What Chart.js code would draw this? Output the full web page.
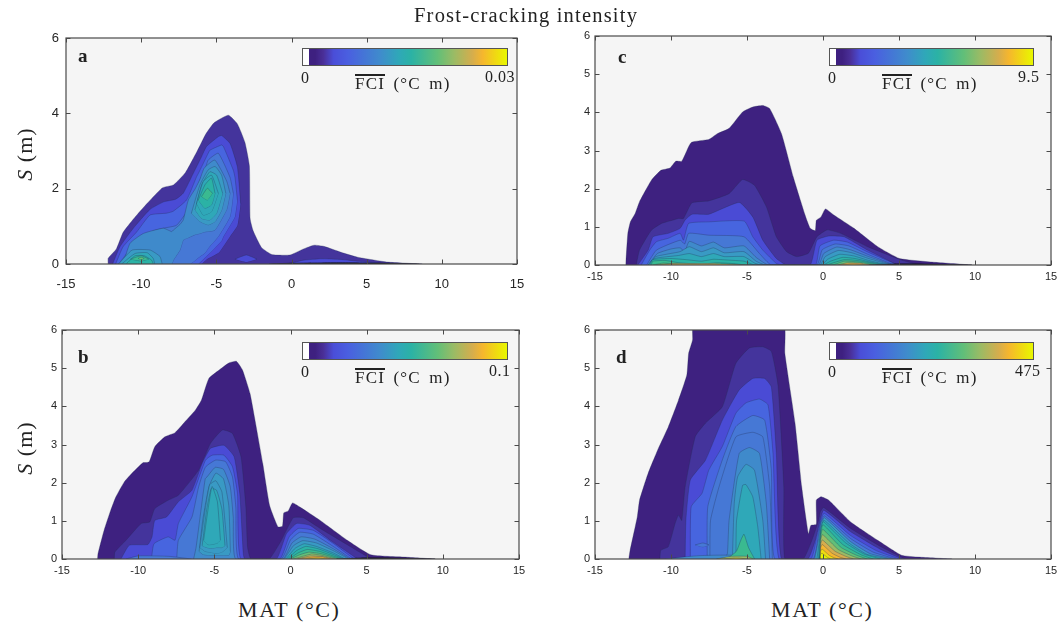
<!DOCTYPE html>
<html>
<head>
<meta charset="utf-8">
<title>Frost-cracking intensity</title>
<script src="https://cdn.jsdelivr.net/npm/chart.js@4"></script>
<style>
html, body { margin: 0; padding: 0; background: #fff; }
#page { position: relative; width: 1062px; height: 623px; overflow: hidden; font-family: "Liberation Serif", serif; color: #222; }
canvas { position: absolute; }
.txt { position: absolute; white-space: nowrap; letter-spacing: .5px; }
.bar { position: absolute; height: 18px; box-sizing: border-box; border: 1px solid #555; }
.over { border-top: 2px solid #222; line-height: 15px; display: inline-block; }
</style>
</head>
<body>
<div id="page"></div>
<script>
// tick labels
var xTicks = [-15, -10, -5, 0, 5, 10, 15];
var yTicksA = [0, 2, 4, 6];
var yTicksRest = [0, 1, 2, 3, 4, 5, 6];
var barMax = { a: '0.03', b: '0.1', c: '9.5', d: '475' };

// contour level colours, low to high
var levels = ['#3e2180', '#44349c', '#4a4bd5', '#4765df', '#4678d5', '#3f8acb', '#399ac4', '#2fa8b8',
	'#2bb2a5', '#3aba90', '#62bf78', '#9abb65', '#d5ad4d', '#f5b62e', '#efdc10', '#e8f800'];
var stripe = '#15151f';

// panel a
var a1x = [-12.2, -12.2, -11.65, -11.2, -10.5, -9.85, -8.6, -7.85, -7.05, -6.27, -5.7, -5.15, -4.2, -3.6, -3.1, -2.8, -2.75, -2.55, -2, -1.3, -0.1, 0.8, 1.5, 2.15, 3.3, 4.4, 6.4, 8.7];
var a1y = [0, .15, .4, .84, 1.2, 1.5, 2.02, 2.1, 2.43, 3, 3.45, 3.75, 3.95, 3.72, 3.23, 2.6, 1.2, .88, .44, .25, .24, .4, .5, .47, .31, .18, .05, 0];
var a2x = [-11.9, -11.41, -10.52, -9.41, -8.5, -7.7, -7.2, -6.53, -5.98, -5.65, -4.87, -4.65, -4.09, -3.6, -3.38];
var a2hi = [0, .46, .95, 1.45, 1.65, 1.72, 1.88, 2.41, 2.85, 3.12, 3.38, 3.41, 3.2, 2.58, 1.6];
var a2lo = [0, 0, 0, 0, 0, 0, 0, 0, 0, .12, .29, .4, .73, 1.02, 1.6];
var a2ix = [-3.76, -3, -2.3];
var a2ihi = [.13, .24, .13];
var a2ilo = [.13, .05, .13];
var a2rx = [-0.3, 0.8, 2, 3.3, 4.5, 6.5];
var a2ry = [0, .1, .14, .12, .07, 0];
var a3x = [-11.7, -11.2, -10.3, -9.41, -8.3, -7.87, -6.98, -6.31, -6.2, -5.54, -5.43, -4.65, -4.53, -3.87, -3.76, -3.6];
var a3hi = [0, .46, .85, 1.3, 1.35, 1.4, 1.7, 2.32, 2.4, 2.94, 3.02, 3.16, 3.12, 2.49, 2.3, 1.7];
var a3lo = [0, 0, 0, 0, 0, 0, 0, 0, 0, .25, .29, .62, .73, 1.17, 1.26, 1.7];
var a4x = [-11.5, -10.3, -9.2, -8.53, -7.64, -6.75, -6.09, -5.76, -5.54, -4.87, -4.09, -3.87];
var a4hi = [0, .6, .88, .95, 1.03, 1.52, 2.23, 2.5, 2.76, 2.94, 2.3, 1.88];
var a4lo = [0, 0, 0, 0, 0, 0, .2, .29, .42, .73, 1.26, 1.88];
var a5x = [-11.2, -10.74, -9.86, -8.53, -7.97, -7.86, -7.42, -7.2, -6.86, -6.4, -6.09, -5.8, -5.1, -4.31, -4.09];
var a5hi = [0, .55, .81, .95, .86, .9, 1.05, 1.17, 1.7, 2, 2.25, 2.55, 2.76, 2.2, 1.88];
var a5lo = [0, 0, 0, 0, 0, .1, .37, .64, .7, .78, .81, .85, .9, 1.45, 1.88];
var a6x = [-6.66, -6.09, -5.54, -5.08, -4.65, -4.37];
var a6hi = [1.35, 2.1, 2.5, 2.59, 2.36, 1.88];
var a6lo = [1.35, 1.13, 1.04, 1.13, 1.43, 1.88];
var a7x = [-6.42, -5.98, -5.43, -4.98, -4.58];
var a7hi = [1.44, 2.1, 2.45, 2.36, 1.88];
var a7lo = [1.44, 1.21, 1.17, 1.35, 1.88];
var a8x = [-6.31, -5.87, -5.32, -4.87];
var a8hi = [1.61, 2.19, 2.36, 1.88];
var a8lo = [1.61, 1.3, 1.39, 1.88];
var a9x = [-6.2, -5.76, -5.32, -5.09];
var a9hi = [1.7, 2.1, 2.28, 1.88];
var a9lo = [1.7, 1.48, 1.57, 1.88];
var a10x = [-5.98, -5.6, -5.26];
var a10hi = [1.79, 2.01, 1.88];
var a10lo = [1.79, 1.7, 1.88];
var a11x = [-11.5, -10.6, -9.4, -8.75, -8.6];
var a11y = [0, .37, .37, .2, 0];
var a12x = [-11.3, -10.4, -9.6, -9.2, -9.1];
var a12y = [0, .28, .3, .15, 0];
var a13x = [-11, -10.4, -9.8, -9.3, -9.2];
var a13y = [0, .22, .22, .1, 0];
var a14x = [-10.7, -10, -9.5];
var a14hi = [.13, .22, .13];
var a14lo = [.13, .08, .13];
var a16x = [-10.2, -10, -9.8];
var a16hi = [.15, .18, .15];
var a16lo = [.15, .12, .15];
var a15x = [-1.5, 0, 3, 6, 8.5];
var a15y = [0, .02, .035, .025, 0];

// panel b
var b1x = [-12.68, -12.64, -12.24, -11.8, -11.46, -10.91, -10.47, -9.69, -9.29, -8.91, -8.25, -7.58, -6.92, -6.25, -5.85, -5.36, -4.69, -4.03, -3.55, -3.15, -2.66, -2.37, -1.82, -1.37, -.82, -.53, -.44, -.15, .13, .62, 1.95, 3.73, 5.28, 7.5, 9.5];
var b1y = [0, .14, .75, 1.28, 1.63, 2.02, 2.22, 2.52, 2.54, 2.94, 3.2, 3.31, 3.6, 3.9, 4.16, 4.73, 4.95, 5.14, 5.18, 4.95, 4.34, 3.73, 2.5, 1.4, .84, .86, 1.21, 1.26, 1.47, 1.36, 1.01, .49, .11, .05, 0];
var b2x = [-11.57, -11.53, -10.8, -9.8, -9.24, -8.91, -8.03, -7.36, -6.03, -5.25, -4.47, -3.81, -3.25, -2.93, -2.82, -2.6, -1.4, -.6, .18, .84, 1.95, 3.95, 5.28];
var b2y = [0, .18, .49, .93, .97, 1.32, 1.54, 1.67, 2.33, 3.03, 3.38, 3.29, 2.68, 1.36, .31, 0, 0, .49, 1.08, 1.08, .8, .32, 0];
var b3x = [-11.13, -10.58, -9.36, -9.09, -8.91, -8.14, -7.36, -6.47, -5.8, -5.25, -4.37, -3.7, -3.33, -3.1, -3, -.93, -.27, .4, 1.28, 2.62, 4.4];
var b3y = [0, .36, .38, .58, 1.01, 1.1, 1.5, 1.8, 2.5, 2.9, 2.98, 2.68, 1.71, .14, 0, 0, .66, .93, .88, .49, 0];
var b4x = [-9.13, -8.96, -8.03, -7.58, -7.36, -6.47, -5.58, -5.14, -4.37, -3.81, -3.48, -3.26, -.7, -.09, .51, 1.5, 2.84, 4.17];
var b4y = [0, .4, .58, .49, .93, 1.63, 2.59, 2.72, 2.72, 2.42, 1.71, 0, 0, .58, .8, .75, .4, 0];
var b5x = [-7.47, -7.36, -6.47, -6.03, -5.58, -4.92, -4.26, -3.81, -3.59, -3.41, -.6, 0, .6, 1.5, 2.8, 4];
var b5y = [0, .49, 1.1, 1.89, 2.41, 2.59, 2.55, 2.15, 1.36, 0, 0, .5, .7, .65, .33, 0];
var b6x = [-6.36, -6.2, -6, -5.6, -5.48, -4.95, -4.4, -3.96, -3.76, -3.6, -.5, .1, .7, 1.6, 2.8, 3.9];
var b6y = [0, .3, .9, 2.1, 2.15, 2.4, 2.35, 1.9, 1.1, 0, 0, .42, .58, .52, .27, 0];
var b7x = [-10.8, -10, -8, -6.5];
var b7y = [0, .08, .07, 0];
var b8x = [-6, -5.75, -5.35, -4.9, -4.4, -4.05, -3.95];
var b8hi = [.2, 1.05, 1.9, 2.25, 2.1, 1.4, .2];
var b8lo = [.2, .12, .1, .1, .1, .1, .2];
var b9x = [-5.95, -5.6, -5.3, -4.9, -4.5, -4.15];
var b9hi = [.3, 1.3, 1.95, 2.05, 1.75, .3];
var b9lo = [.3, .2, .18, .15, .18, .3];
var b10x = [-5.8, -5.5, -5.2, -4.85, -4.5, -4.3];
var b10hi = [.35, 1.3, 1.85, 1.8, 1.3, .35];
var b10lo = [.35, .3, .28, .3, .3, .35];
var b11x = [-5.7, -5.45, -5.15, -4.8, -4.6];
var b11hi = [.5, 1.2, 1.9, 1.5, .5];
var b11lo = [.5, .38, .38, .42, .5];
var b12x = [-.4, .2, .8, 1.7, 2.8, 3.8];
var b12y = [0, .35, .48, .42, .22, 0];
var b13x = [-.3, .3, .9, 1.7, 2.8, 3.6];
var b13y = [0, .28, .4, .33, .16, 0];
var b14x = [-.2, .4, 1, 1.8, 2.8, 3.5];
var b14y = [0, .22, .33, .27, .12, 0];
var b15x = [-.1, .5, 1.1, 1.9, 2.8, 3.4];
var b15y = [0, .16, .25, .2, .08, 0];
var b16x = [0, .6, 1.2, 2, 3.2];
var b16y = [0, .11, .18, .14, 0];
var b17x = [.2, .8, 1.4, 2, 3];
var b17y = [0, .07, .13, .1, 0];
var b18x = [.4, 1.3, 2, 2.8];
var b18y = [0, .08, .07, 0];
var b19x = [.5, 1.5, 2.1, 2.6];
var b19y = [0, .05, .05, 0];
var b20x = [1, 1.8, 2.4];
var b20y = [0, .025, 0];
var b21x = [3, 5, 7, 9.5];
var b21y = [0, .03, .025, 0];

// panel c
var c1x = [-12.98, -12.84, -12.67, -12.36, -12.07, -11.29, -10.67, -10.07, -9.69, -9.29, -8.67, -7.51, -6.96, -6.18, -5.29, -4.62, -3.96, -3.51, -2.73, -1.96, -1.18, -.84, -.51, -.44, -.13, .16, .71, 2.04, 3.6, 5.04, 7.38, 9.8];
var c1y = [0, .83, 1.13, 1.35, 1.66, 2.22, 2.48, 2.54, 2.72, 2.72, 3.21, 3.29, 3.44, 3.58, 4.01, 4.14, 4.18, 4.1, 3.44, 2.31, 1.31, .96, .9, 1.17, 1.26, 1.47, 1.31, .96, .48, .17, .07, 0];
var c2x = [-12.29, -12.07, -11.29, -10.62, -9.84, -9.51, -9.18, -8.62, -7.51, -6.18, -5.29, -4.51, -3.73, -3.07, -2.4, -1.73, -.96, -.4, .27, 1.16, 2.93, 5.16, 6.3];
var c2y = [0, .39, .91, 1.09, 1.18, 1.22, 1.22, 1.63, 1.68, 1.87, 2.24, 2.09, 1.53, .74, .35, .22, .31, .74, .92, .83, .48, .13, 0];
var c3x = [-12.18, -11.5, -11.18, -10.18, -9.4, -9.07, -8.62, -7.51, -5.51, -4.62, -3.96, -3.07, -2.4, -.84, -.4, .38, 1.38, 2.93, 4.9];
var c3y = [0, .39, .74, .83, .96, 1.18, 1.33, 1.33, 1.64, 1.26, .65, .17, 0, 0, .65, .76, .74, .39, 0];
var c4x = [-11.96, -11.4, -10.96, -10.18, -9.4, -9.18, -8.84, -7.51, -5.18, -4.62, -3.96, -3.07, -2.73, -.5, -.2, .7, 1.6, 3, 4.9];
var c4y = [0, .39, .61, .7, .83, .65, 1.09, 1.13, 1.15, .74, .39, .04, 0, 0, .5, .65, .6, .33, 0];
var c5x = [-11.6, -10.96, -9.4, -9.1, -8.84, -7.5, -5.2, -4.18, -3.4, -.4, -.05, .8, 1.7, 3, 4.7];
var c5y = [0, .39, .65, .55, .83, .78, .74, .3, 0, 0, .4, .55, .5, .27, 0];
var c6x = [-11.5, -10.9, -10, -9.4, -9.1, -8.8, -8, -7.2, -6.5, -5.2, -4.4, -3.6, -.3, .05, .9, 1.8, 3, 4.6];
var c6y = [0, .3, .42, .45, .35, .62, .5, .6, .45, .5, .2, 0, 0, .3, .47, .4, .22, 0];
var c7x = [-11.5, -11, -9.4, -8.8, -8, -7.2, -6.5, -5.2, -4.4, -3.8, -.2, .15, 1, 1.9, 3, 4.5];
var c7y = [0, .22, .35, .48, .35, .45, .32, .35, .1, 0, 0, .22, .38, .32, .17, 0];
var c8x = [-11.5, -11.1, -9.5, -8.8, -8, -7.2, -6.5, -5.2, -4.5, -4.1, -.1, .3, 1.1, 2, 3, 4.3];
var c8y = [0, .17, .25, .3, .22, .3, .22, .22, .05, 0, 0, .15, .28, .24, .12, 0];
var c9x = [-11.4, -11.2, -10, -9, -8, -7.2, -6.3, -5.2, -4.5, 0, .5, 1.3, 2.1, 3.1, 4.2];
var c9y = [0, .14, .17, .14, .1, .15, .13, .1, 0, 0, .1, .2, .17, .08, 0];
var c10x = [-11.3, -11.2, -10.4, -9.5, -8, -7, -6, -5, .2, .7, 1.4, 2.2, 3.2, 4];
var c10y = [0, .1, .12, .06, .02, .06, .04, 0, 0, .06, .14, .12, .05, 0];
var c11x = [-11.2, -10.5, -9.5, -9, .6, 1.4, 2.3, 3.6];
var c11y = [0, .05, .02, 0, 0, .1, .08, 0];
var c12x = [-11, -10, -7, -4.6, .9, 1.6, 2.4, 3.2];
var c12y = [0, .035, .035, 0, 0, .06, .05, 0];
var c13x = [1, 2, 3];
var c13y = [0, .035, 0];
var c14x = [3, 5, 7, 9.8];
var c14y = [0, .03, .025, 0];

// panel d
var d1x = [-12.78, -12.69, -12.22, -12.07, -11.51, -10.84, -10.18, -9.51, -8.96, -8.84, -8.58, -8.51, -2.62, -2.51, -1.84, -1.4, -.96, -.8, -.44, -.44, -.13, .38, 1.82, 3.6, 5.16, 6.3, 8.5];
var d1y = [0, .23, 1.1, 1.54, 2.24, 2.89, 3.46, 4.16, 4.82, 5.39, 5.74, 6.2, 6.2, 5.39, 3.56, 1.89, .66, .88, .91, 1.54, 1.63, 1.54, .97, .49, .1, .05, 0];
var d2x = [-10.73, -10.67, -10.18, -9.73, -9.51, -9.29, -9.07, -8.4, -7.73, -6.62, -5.73, -4.84, -3.96, -3.4, -2.96, -2.58, -2.51, -1.3, -.73, -.29, -.18, .04, 1.82, 3.82, 5.38];
var d2y = [0, .23, .32, .93, 1.15, 1.01, 1.89, 3.21, 3.56, 3.99, 5.13, 5.53, 5.56, 5.44, 4.55, 1.89, 0, 0, .49, 1.01, 1.23, 1.35, .8, .32, 0];
var d3x = [-9.07, -9.02, -8.73, -7.73, -6.62, -5.51, -4.62, -3.84, -3.4, -3.07, -2.73, -1, -.5, -.2, .05, 1.8, 3.7, 5.2];
var d3y = [0, 1.01, 2.07, 2.59, 3.64, 4.43, 4.73, 4.73, 4.51, 2.77, 0, 0, .5, 1, 1.28, .72, .27, 0];
var d4x = [-8.73, -8.67, -7.96, -7.51, -6.62, -5.73, -5.07, -4.18, -3.62, -3.29, -2.89, -.8, -.4, -.15, .08, 1.8, 3.5, 5];
var d4y = [0, 1.37, 1.72, 2.33, 2.95, 3.82, 4.09, 4.19, 4.04, 2.77, 0, 0, .6, 1, 1.2, .62, .22, 0];
var d5x = [-7.62, -7.58, -6.62, -5.73, -4.62, -3.84, -3.4, -3.18, -.65, -.3, -.12, .1, 1.8, 3.3, 4.8];
var d5y = [0, 1.37, 2.6, 3.47, 3.76, 3.64, 2.33, 0, 0, .65, .98, 1.13, .54, .18, 0];
var d6x = [-7.44, -7.4, -6.84, -5.73, -4.62, -3.96, -3.51, -3.33];
var d6y = [0, 1.01, 1.89, 3.2, 3.32, 3.2, 1.89, 0];
var d7x = [-6.5, -6.29, -6.18, -5.51, -4.84, -4.18, -3.73, -3.51];
var d7y = [0, .14, 1.01, 2.77, 2.92, 2.77, 1.45, 0];
var d8x = [-5.96, -5.84, -5.62, -5.07, -4.51, -3.96, -3.78];
var d8y = [0, 1.45, 2.15, 2.48, 2.33, 1.01, 0];
var d9x = [-5.73, -5.69, -5.29, -5.07, -4.62, -4.29, -4.07];
var d9y = [0, 1, 1.93, 1.95, 1.63, .84, 0];
var d10x = [-8.4, -7.9, -7.5];
var d10hi = [.37, .42, .37];
var d10lo = [.37, .32, .37];
var d11x = [-10.4, -9, -8, -7, -6, -5, -4.5];
var d11y = [0, .06, .09, .1, .1, .08, 0];
var d12x = [-7, -6.2, -5.7, -5.4, -5.2, -4.9, -4.5];
var d12y = [0, .05, .2, .5, .65, .3, 0];
var d13x = [-7, -6, -5, -4.6];
var d13y = [0, .07, .07, 0];
var d14x = [-6.5, -5.7, -5];
var d14y = [0, .03, 0];
var fan1x = [-.55, -.3, -.12, .1, 1.8, 3.1, 4.6];
var fan1y = [0, .5, .95, 1.08, .46, .14, 0];
var fan2x = [-.4, -.12, .05, 1.7, 2.9, 4.3];
var fan2y = [0, .8, 1.02, .42, .12, 0];
var fan3x = [-.3, -.13, .02, 1.5, 2.7, 3.8];
var fan3y = [0, .8, .98, .42, .13, 0];
var fan4x = [-.22, -.14, 0, 1.3, 2.5, 3.3];
var fan4y = [0, .7, .9, .38, .11, 0];
var fan5x = [-.2, -.14, -.02, 1.2, 2.2, 2.9];
var fan5y = [0, .6, .78, .3, .1, 0];
var fan6x = [-.19, -.15, -.03, 1, 1.9, 2.5];
var fan6y = [0, .5, .64, .25, .08, 0];
var fan7x = [-.18, -.15, -.04, .8, 1.5, 2];
var fan7y = [0, .4, .5, .2, .07, 0];
var fan8x = [-.18, -.15, -.05, .6, 1.1, 1.5];
var fan8y = [0, .3, .38, .15, .05, 0];
var fan9x = [-.18, -.16, -.06, .4, .75, 1];
var fan9y = [0, .2, .26, .1, .03, 0];
var fan10x = [-.18, -.16, -.07, .3, .5];
var fan10y = [0, .12, .15, .04, 0];

// [colour level, x, top, bottom]
var panelA = [[1, a1x, a1y], [2, a2x, a2hi, a2lo], [2, a2ix, a2ihi, a2ilo], [2, a2rx, a2ry], [3, a3x, a3hi, a3lo], [4, a4x, a4hi, a4lo],
	[5, a5x, a5hi, a5lo], [6, a6x, a6hi, a6lo], [7, a7x, a7hi, a7lo], [7, a8x, a8hi, a8lo], [8, a9x, a9hi, a9lo], [9, a10x, a10hi, a10lo],
	[6, a11x, a11y], [7, a12x, a12y], [8, a13x, a13y], [9, a14x, a14hi, a14lo], [10, a16x, a16hi, a16lo], [-1, a15x, a15y]];
var panelB = [[0, b1x, b1y], [1, b2x, b2y], [2, b3x, b3y], [3, b4x, b4y], [4, b5x, b5y], [5, b6x, b6y], [4, b7x, b7y],
	[6, b8x, b8hi, b8lo], [6, b9x, b9hi, b9lo], [7, b10x, b10hi, b10lo], [7, b11x, b11hi, b11lo],
	[6, b12x, b12y], [7, b13x, b13y], [8, b14x, b14y], [9, b15x, b15y], [10, b16x, b16y], [11, b17x, b17y], [12, b18x, b18y], [13, b19x, b19y], [14, b20x, b20y], [-1, b21x, b21y]];
var panelC = [[0, c1x, c1y], [1, c2x, c2y], [2, c3x, c3y], [3, c4x, c4y], [4, c5x, c5y], [5, c6x, c6y], [6, c7x, c7y], [7, c8x, c8y],
	[8, c9x, c9y], [9, c10x, c10y], [10, c11x, c11y], [12, c12x, c12y], [13, c13x, c13y], [-1, c14x, c14y]];
var panelD = [[0, d1x, d1y], [1, d2x, d2y], [2, d3x, d3y], [3, d4x, d4y], [4, d5x, d5y], [4, d6x, d6y], [5, d7x, d7y], [6, d8x, d8y], [7, d9x, d9y],
	[4, d10x, d10hi, d10lo], [5, d11x, d11y], [9, d12x, d12y], [11, d13x, d13y], [14, d14x, d14y],
	[6, fan1x, fan1y], [7, fan2x, fan2y], [8, fan3x, fan3y], [9, fan4x, fan4y], [10, fan5x, fan5y], [11, fan6x, fan6y], [12, fan7x, fan7y], [13, fan8x, fan8y], [14, fan9x, fan9y], [15, fan10x, fan10y]];

var page = document.getElementById('page');

function label(html, x, y, size, extra) {
	var el = document.createElement('div');
	el.className = 'txt';
	el.innerHTML = html;
	el.style.left = x + 'px';
	el.style.top = y + 'px';
	el.style.fontSize = size + 'px';
	el.style.lineHeight = '1';
	if (extra) el.style.cssText += extra;
	page.appendChild(el);
	return el;
}

function points(xs, ys) {
	return xs.map(function (x, i) { return { x: x, y: ys[i] }; });
}

function buildDatasets(panel) {
	var out = [];
	// chart.js paints the last dataset first, so innermost level goes first
	for (var i = panel.length - 1; i >= 0; i--) {
		var l = panel[i];
		var col = l[0] < 0 ? stripe : levels[l[0]];
		var line = l[0] < 0 ? stripe : 'rgba(35,45,80,0.5)';
		out.push({
			data: points(l[1], l[2]), showLine: true, pointRadius: 0, tension: 0.15,
			backgroundColor: col, borderColor: line, borderWidth: 0.6,
			fill: l[3] ? '+1' : 'origin'
		});
		if (l[3]) {
			out.push({
				data: points(l[1], l[3]), showLine: true, pointRadius: 0, tension: 0.15,
				borderColor: line, borderWidth: 0.6, fill: false
			});
		}
	}
	return out;
}

// grey plot face behind the contours
var facePlugin = {
	id: 'face',
	beforeDraw: function (chart) {
		var a = chart.chartArea, c = chart.ctx;
		c.save();
		c.fillStyle = '#f5f5f5';
		c.fillRect(a.left, a.top, a.right - a.left, a.bottom - a.top);
		c.restore();
	}
};

// matlab style box with inward ticks on all sides
var boxPlugin = {
	id: 'box',
	afterDatasetsDraw: function (chart) {
		var a = chart.chartArea, c = chart.ctx, sx = chart.scales.x, sy = chart.scales.y;
		c.save();
		c.strokeStyle = '#4a4a4a';
		c.lineWidth = 1;
		c.beginPath();
		sx.ticks.forEach(function (t) {
			var p = Math.round(sx.getPixelForValue(t.value)) + .5;
			c.moveTo(p, a.top); c.lineTo(p, a.top + 4.5);
			c.moveTo(p, a.bottom); c.lineTo(p, a.bottom - 4.5);
		});
		sy.ticks.forEach(function (t) {
			var p = Math.round(sy.getPixelForValue(t.value)) + .5;
			c.moveTo(a.left, p); c.lineTo(a.left + 4.5, p);
			c.moveTo(a.right, p); c.lineTo(a.right - 4.5, p);
		});
		c.stroke();
		c.lineWidth = 1.2;
		c.strokeRect(a.left, a.top, a.right - a.left, a.bottom - a.top);
		c.restore();
	}
};

function noPad(s) {
	s.paddingLeft = s.paddingRight = s.paddingTop = s.paddingBottom = 0;
}

function drawPanel(name, panel, yTicks, box, fontSize, padX, padY) {
	var marginL = 45, marginR = 15, marginT = 8, marginB = 28;
	var cv = document.createElement('canvas');
	cv.width = box.w + marginL + marginR;
	cv.height = box.h + marginT + marginB;
	cv.style.left = (box.x - marginL) + 'px';
	cv.style.top = (box.y - marginT) + 'px';
	page.appendChild(cv);

	new Chart(cv, {
		type: 'scatter',
		data: { datasets: buildDatasets(panel) },
		plugins: [facePlugin, boxPlugin],
		options: {
			responsive: false,
			animation: false,
			devicePixelRatio: 1,
			layout: { autoPadding: false, padding: { left: 0, right: marginR, top: marginT, bottom: 0 } },
			plugins: { legend: { display: false }, tooltip: { enabled: false }, title: { display: false } },
			scales: {
				x: {
					type: 'linear', min: xTicks[0], max: xTicks[xTicks.length - 1],
					afterBuildTicks: function (s) { s.ticks = xTicks.map(function (v) { return { value: v }; }); },
					afterFit: function (s) { s.height = marginB; noPad(s); },
					grid: { display: false, drawTicks: false }, border: { display: false },
					ticks: { autoSkip: false, maxRotation: 0, padding: padX, color: '#262626', font: { family: 'Liberation Sans', size: fontSize } }
				},
				y: {
					type: 'linear', min: 0, max: 6,
					afterBuildTicks: function (s) { s.ticks = yTicks.map(function (v) { return { value: v }; }); },
					afterFit: function (s) { s.width = marginL; noPad(s); },
					grid: { display: false, drawTicks: false }, border: { display: false },
					ticks: { autoSkip: false, padding: padY, color: '#262626', font: { family: 'Liberation Sans', size: fontSize } }
				}
			}
		}
	});

	// colour bar, white first cell then the level colours
	var bar = document.createElement('div');
	bar.className = 'bar';
	bar.style.left = box.barX + 'px';
	bar.style.top = (box.y + box.barDy) + 'px';
	bar.style.width = box.barW + 'px';
	bar.style.background = 'linear-gradient(90deg,#fff 0,#fff 3%,#3e2080 3%,#3e2080 6%,#4a2f98 10%,#4a4ed8 15%,#4a5fe0 22%,#3f8ccc 38%,#2fa8b8 47%,#2bb2a5 53%,#62bf78 66%,#9abb65 74%,#d5ad4d 83%,#f5b62e 88%,#efdc10 95%,#e8f800 100%)';
	page.appendChild(bar);

	var ty = box.y + box.barDy + 23;
	label('0', box.barX - 1, ty - 1, 16);
	label('<span class="over">FCI</span> (°C m)', box.barX + 53, ty + 3, 17, 'letter-spacing:1.2px;word-spacing:3px;');
	var mx = label(barMax[name], 0, ty - 2, 16);
	mx.style.left = (box.maxRight - mx.offsetWidth) + 'px';
	label(name, box.x + box.letterDx, box.y + box.letterDy, 19, 'font-weight:bold;');
}

drawPanel('a', panelA, yTicksA, { x: 66, y: 38, w: 451, h: 226, barX: 302, barW: 206, barDy: 10, maxRight: 515, letterDx: 12, letterDy: 8 }, 13, 13, 7);
drawPanel('b', panelB, yTicksRest, { x: 62, y: 330, w: 457, h: 229, barX: 302, barW: 206, barDy: 12, maxRight: 511, letterDx: 16, letterDy: 17 }, 11, 5, 5);
drawPanel('c', panelC, yTicksRest, { x: 595, y: 36, w: 456, h: 229, barX: 829, barW: 205, barDy: 12, maxRight: 1040, letterDx: 23, letterDy: 11 }, 11, 5, 5);
drawPanel('d', panelD, yTicksRest, { x: 595, y: 330, w: 456, h: 229, barX: 829, barW: 205, barDy: 12, maxRight: 1041, letterDx: 21, letterDy: 17 }, 11, 5, 5);

label('Frost-cracking intensity', 414, 5, 20.5, 'letter-spacing:1.2px;');
label('MAT (°C)', 238, 599, 22, 'letter-spacing:1.6px;');
label('MAT (°C)', 771, 599, 22, 'letter-spacing:1.6px;');
label('<i>S</i> (m)', -10, 143, 22, 'width:70px;text-align:center;letter-spacing:1px;transform:rotate(-90deg);');
label('<i>S</i> (m)', -10, 437, 22, 'width:70px;text-align:center;letter-spacing:1px;transform:rotate(-90deg);');
</script>
</body>
</html>
